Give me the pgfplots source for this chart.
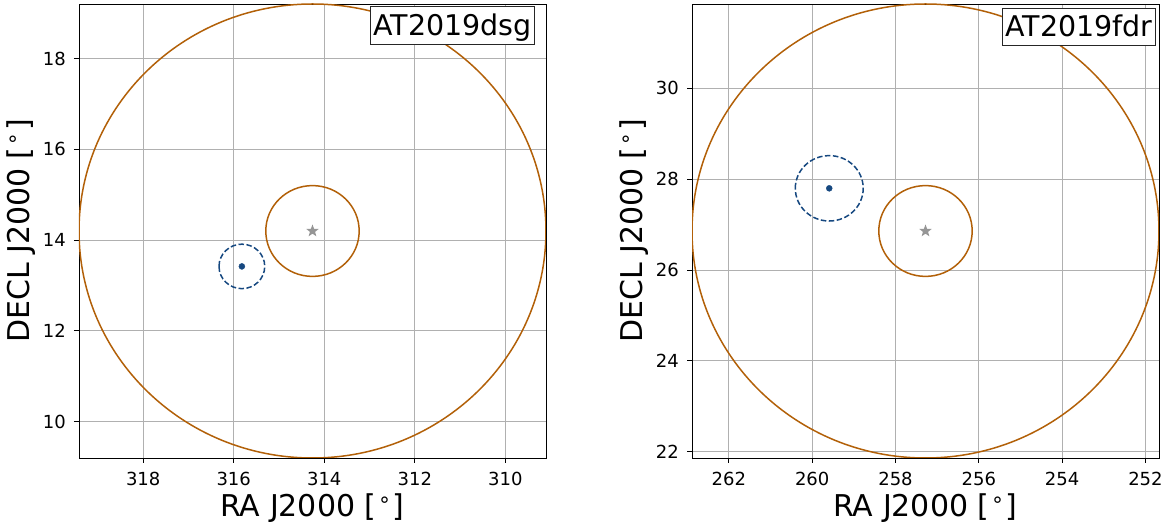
\documentclass[border=0pt]{standalone}
\usepackage{fontspec}
\setmainfont{DejaVu Sans}
\usepackage{pgfplots}
\pgfplotsset{compat=1.18}

\definecolor{ringorange}{RGB}{178,96,8}
\definecolor{tdeblue}{RGB}{22,72,128}
\definecolor{hostgray}{RGB}{150,150,150}

% filled five-pointed star
\pgfdeclareplotmark{fstar}{%
  \pgfpathmoveto{\pgfpointpolar{90}{\pgfplotmarksize}}%
  \pgfpathlineto{\pgfpointpolar{126}{0.42\pgfplotmarksize}}%
  \pgfpathlineto{\pgfpointpolar{162}{\pgfplotmarksize}}%
  \pgfpathlineto{\pgfpointpolar{198}{0.42\pgfplotmarksize}}%
  \pgfpathlineto{\pgfpointpolar{234}{\pgfplotmarksize}}%
  \pgfpathlineto{\pgfpointpolar{270}{0.42\pgfplotmarksize}}%
  \pgfpathlineto{\pgfpointpolar{306}{\pgfplotmarksize}}%
  \pgfpathlineto{\pgfpointpolar{342}{0.42\pgfplotmarksize}}%
  \pgfpathlineto{\pgfpointpolar{18}{\pgfplotmarksize}}%
  \pgfpathlineto{\pgfpointpolar{54}{0.42\pgfplotmarksize}}%
  \pgfpathclose
  \pgfusepathqfill}

\newcommand{\degunit}{[\hspace{3pt}\raisebox{4pt}{\fontsize{21}{21}\selectfont °}\hspace{3pt}]}

\pgfplotsset{skypanel/.style={
  scale only axis, width=467pt, height=454pt,
  x dir=reverse,
  grid=major,
  grid style={color=black!31, line width=0.9pt},
  axis line style={line width=0.9pt},
  tick align=outside, major tick length=5pt,
  xtick pos=bottom, ytick pos=left,
  major tick style={black, line width=0.9pt},
  tick label style={font=\fontsize{18}{20}\selectfont},
  label style={font=\fontsize{30}{34}\selectfont},
  /pgf/number format/assume math mode=true,
  xlabel={RA J2000 \degunit},
  ylabel={DECL J2000 \degunit},
  xlabel style={at={(axis description cs:0.5,0)}, anchor=base, yshift=-59pt},
  ylabel style={at={(axis description cs:-0.125,0.5)}, anchor=center},
  xticklabel style={anchor=base, yshift=-23pt, inner sep=0pt},
  yticklabel style={anchor=east, xshift=-8pt, inner sep=0pt},
  clip=true,
}}

\tikzset{titlebox/.style={draw=black!85, fill=white, line width=0.9pt,
  anchor=north east, inner xsep=3pt, inner ysep=1.5pt,
  text height=27pt, text depth=7.5pt, font=\fontsize{28.5}{30}\selectfont}}

\begin{document}
\begin{tikzpicture}
\path[use as bounding box] (-79pt,-69pt) rectangle (1088pt,458pt);

% AT2019dsg
\begin{axis}[skypanel, at={(0pt,0pt)}, anchor=south west,
  xmin=309.102, xmax=319.418, ymin=9.20, ymax=19.20,
  xtick={310,312,314,316,318}, ytick={10,12,14,16,18}]
\draw[ringorange, line width=1.5pt] (axis cs:314.26,14.20) ellipse [x radius=5.1576, y radius=5];
\draw[ringorange, line width=1.5pt] (axis cs:314.26,14.20) ellipse [x radius=1.0315, y radius=1];
\draw[tdeblue, line width=1.5pt, dash pattern=on 5.5pt off 2.5pt] (axis cs:315.82,13.42) ellipse [x radius=0.505, y radius=0.49];
\addplot[only marks, mark=fstar, mark size=6.5pt, color=hostgray] coordinates {(314.26,14.20)};
\addplot[only marks, mark=*, mark size=3pt, color=tdeblue] coordinates {(315.82,13.42)};
\node[titlebox] at (axis description cs:1,1) [xshift=-11pt, yshift=-2.3pt] {AT2019dsg};
\end{axis}

% AT2019fdr
\begin{axis}[skypanel, at={(613pt,0pt)}, anchor=south west,
  xmin=251.675, xmax=262.885, ymin=21.86, ymax=31.86,
  xtick={252,254,256,258,260,262}, ytick={22,24,26,28,30}]
\draw[ringorange, line width=1.5pt] (axis cs:257.28,26.86) ellipse [x radius=5.6047, y radius=5];
\draw[ringorange, line width=1.5pt] (axis cs:257.28,26.86) ellipse [x radius=1.1209, y radius=1];
\draw[tdeblue, line width=1.5pt, dash pattern=on 5.5pt off 2.5pt] (axis cs:259.59,27.80) ellipse [x radius=0.815, y radius=0.72];
\addplot[only marks, mark=fstar, mark size=6.5pt, color=hostgray] coordinates {(257.28,26.86)};
\addplot[only marks, mark=*, mark size=3pt, color=tdeblue] coordinates {(259.59,27.80)};
\node[titlebox] at (axis description cs:1,1) [xshift=-3pt, yshift=-4pt] {AT2019fdr};
\end{axis}
\end{tikzpicture}
\end{document}
